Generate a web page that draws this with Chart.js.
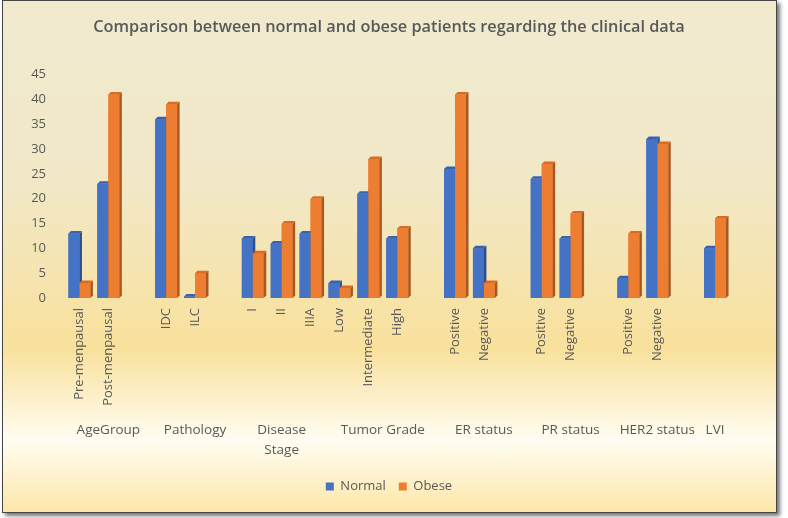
<!DOCTYPE html>
<html>
<head>
<meta charset="utf-8">
<script src="https://cdn.jsdelivr.net/npm/chart.js@4.4.9/dist/chart.umd.min.js"></script>
<style>
  body { margin: 0; background: #fff; }
  #frame {
    position: absolute; left: 2px; top: 0; width: 773px; height: 511px;
    border: 1px solid #454545;
    box-shadow: 3px 3px 4px rgba(0, 0, 0, 0.55);
    background: linear-gradient(to bottom, #f1eacf 0%, #f2e8c8 35%, #f9e19c 68%, #fffdf2 86%, #fde6a8 100%);
  }
  #chart { position: absolute; left: 0; top: 0; }
</style>
</head>
<body>
<div id="frame"></div>
<canvas id="chart" width="788" height="518"></canvas>
<script>
// slots ('' = empty gap slot between groups)
const categories = ['Pre-menpausal', 'Post-menpausal', '', 'IDC', 'ILC', '', 'I', 'II', 'IIIA',
    'Low', 'Intermediate', 'High', '', 'Positive', 'Negative', '', 'Positive', 'Negative', '',
    'Positive', 'Negative', '', ''];
const normalValues = [13, 23, null, 36, 0.3, null, 12, 11, 13, 3, 21, 12, null, 26, 10, null, 24, 12, null, 4, 32, null, 10];
const obeseValues = [3, 41, null, 39, 5, null, 9, 15, 20, 2, 28, 14, null, 41, 3, null, 27, 17, null, 13, 31, null, 16];

const groupNames = ['AgeGroup', 'Pathology', ['Disease', 'Stage'], 'Tumor Grade', 'ER status', 'PR status', 'HER2 status', 'LVI'];
const groupFirst = [0, 3, 6, 9, 13, 16, 19, 22];
const groupLast = [2, 5, 8, 12, 15, 18, 21, 22];

const textColor = '#595959';
Chart.defaults.font.family = "'Open Sans', sans-serif";
Chart.defaults.color = textColor;

// redraw columns with side and top faces, normal first so obese sits in front
const bars3d = {
    id: 'bars3d',
    afterDatasetsDraw(chart) {
        const ctx = chart.ctx;
        const d = 2.5;
        ctx.save();
        chart.data.datasets.forEach((ds, di) => {
            chart.getDatasetMeta(di).data.forEach((bar, i) => {
                if (ds.data[i] == null) return;
                const { x, y, base, width } = bar.getProps(['x', 'y', 'base', 'width'], true);
                const l = x - width / 2, r = x + width / 2;
                ctx.fillStyle = ds.backgroundColor;
                ctx.fillRect(l, y, width, base - y);
                ctx.fillStyle = ds.sideColor;
                ctx.beginPath();
                ctx.moveTo(r, y);
                ctx.lineTo(r + d, y - d);
                ctx.lineTo(r + d, base - d);
                ctx.lineTo(r, base);
                ctx.closePath();
                ctx.fill();
                ctx.fillStyle = ds.topColor;
                ctx.beginPath();
                ctx.moveTo(l, y);
                ctx.lineTo(l + d, y - d);
                ctx.lineTo(r + d, y - d);
                ctx.lineTo(r, y);
                ctx.closePath();
                ctx.fill();
            });
        });
        ctx.restore();
    }
};

const groupLabels = {
    id: 'groupLabels',
    afterDraw(chart) {
        const ctx = chart.ctx;
        const xs = chart.scales.x;
        ctx.save();
        ctx.font = "13.5px 'Open Sans', sans-serif";
        ctx.fillStyle = textColor;
        ctx.textAlign = 'center';
        ctx.textBaseline = 'middle';
        groupNames.forEach((name, g) => {
            const cx = (xs.getPixelForValue(groupFirst[g]) + xs.getPixelForValue(groupLast[g])) / 2;
            const lines = Array.isArray(name) ? name : [name];
            lines.forEach((t, k) => ctx.fillText(t, cx, 430 + k * 20));
        });
        ctx.restore();
    }
};

new Chart(document.getElementById('chart'), {
    type: 'bar',
    data: {
        labels: categories,
        datasets: [{
            label: 'Normal',
            data: normalValues,
            backgroundColor: '#4472c4',
            sideColor: '#2d4f8e',
            topColor: '#3862b0'
        }, {
            label: 'Obese',
            data: obeseValues,
            backgroundColor: '#ed7d31',
            sideColor: '#a9561f',
            topColor: '#d86c24'
        }]
    },
    options: {
        responsive: false,
        animation: false,
        devicePixelRatio: 1,
        layout: { padding: { left: 0, right: 10, top: 0, bottom: 15 } },
        datasets: { bar: { categoryPercentage: 0.76, barPercentage: 1 } },
        scales: {
            x: {
                grid: { display: false, drawTicks: false },
                border: { display: false },
                ticks: { minRotation: 90, maxRotation: 90, autoSkip: false, padding: 10, font: { size: 13 }, color: textColor },
                afterFit: (s) => { s.height = 169; }
            },
            y: {
                min: 0,
                max: 45,
                grid: { display: false, drawTicks: false },
                border: { display: false },
                ticks: { stepSize: 5, padding: 19, font: { size: 13 }, color: textColor },
                afterFit: (s) => { s.width = 65; }
            },
            // empty right-hand spacer so the legend centres on the frame
            spacer: {
                position: 'right',
                grid: { display: false, drawTicks: false },
                border: { display: false },
                ticks: { display: false },
                afterFit: (s) => { s.width = 48.5; }
            }
        },
        plugins: {
            title: {
                display: true,
                text: 'Comparison between normal and obese patients regarding the clinical data',
                font: { size: 16.3, weight: '600' },
                color: textColor,
                padding: { top: 18, bottom: 37 }
            },
            legend: {
                position: 'bottom',
                labels: {
                    boxWidth: 8,
                    boxHeight: 8,
                    padding: 13,
                    font: { size: 13 },
                    color: textColor
                }
            },
            tooltip: { enabled: false }
        }
    },
    plugins: [bars3d, groupLabels]
});
</script>
</body>
</html>
